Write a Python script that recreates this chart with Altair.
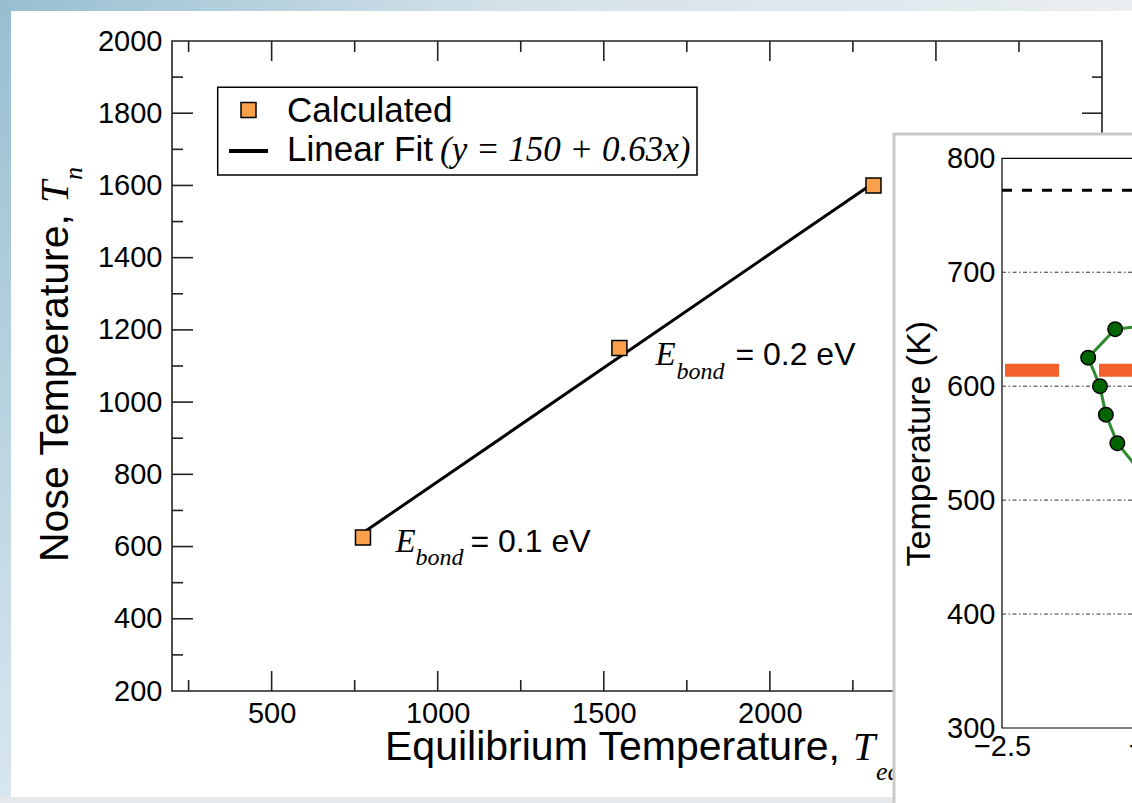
import altair as alt
import pandas as pd

SANS = "Liberation Sans"
SERIF = "Liberation Serif"

# ---------------- main chart values ----------------
teq = [775, 1547, 2312]            # Equilibrium temperature
tn = [625, 1150, 1600]             # Nose temperature (calculated)
fit_teq = [775, 2312]              # linear fit end points
fit_tn = [638, 1607]
ebond = ["0.1", "0.2"]             # labels for first two points
x_label_vals = [500, 1000, 1500, 2000]   # 2500 and 3000 lie under the inset panel
y_label_vals = [200, 400, 600, 800, 1000, 1200, 1400, 1600, 1800, 2000]
x_major = [500, 1000, 1500, 2000, 2500]
x_minor = [250, 750, 1250, 1750, 2250, 2750]
y_major = [400, 600, 800, 1000, 1200, 1400, 1600, 1800]
y_minor = [300, 500, 700, 900, 1100, 1300, 1500, 1700, 1900]
x_domain = [200, 3000]
y_domain = [200, 2000]

# ---------------- inset values ----------------
ins_mu = [-2.135, -2.222, -2.184, -2.165, -2.128]
ins_T = [650, 625, 600, 575, 550]
ins_line_mu = [-2.055, -2.135, -2.222, -2.184, -2.165, -2.128, -2.055]
ins_line_T = [652.5, 650, 625, 600, 575, 550, 525.5]
ins_grid = [400, 500, 600, 700]
ins_black_ref = [772]
ins_orange_ref = [614]
ins_y_labels = [300, 400, 500, 600, 700, 800]
ins_x_labels = [-2.5, -2.0, -1.5, -1.0]
ins_mu_domain = [-2.5, -1.0]
ins_T_domain = [300, 800]

W, H = 930, 650
ORANGE = "#f8a04c"
one = pd.DataFrame({"k": [0]})


def vtext(txt, x, y, size, font=SANS, italic=False, angle=None, align="left"):
    kw = dict(text=txt, font=font, fontSize=size, align=align,
              baseline="alphabetic", color="black")
    if italic:
        kw["fontStyle"] = "italic"
    if angle is not None:
        kw["angle"] = angle
    return alt.Chart(one).mark_text(**kw).encode(x=alt.value(x), y=alt.value(y))


def vrect(x, x2, y, y2, **kw):
    return alt.Chart(one).mark_rect(**kw).encode(
        x=alt.value(x), x2=alt.value(x2), y=alt.value(y), y2=alt.value(y2))


# ---------------- background strips ----------------
top_grad = alt.LinearGradient(gradient="linear", x1=0, x2=1, y1=0, y2=0, stops=[
    alt.GradientStop(offset=0, color="#97bfd1"),
    alt.GradientStop(offset=0.45, color="#d4e2e9"),
    alt.GradientStop(offset=1, color="#e9eef1")])
left_grad = alt.LinearGradient(gradient="linear", x1=0, x2=0, y1=0, y2=1, stops=[
    alt.GradientStop(offset=0, color="#97bfd1"),
    alt.GradientStop(offset=1, color="#d9e7ee")])
strips = alt.layer(
    vrect(-172, 960, -41, -30, color=top_grad),
    vrect(-172, -161, -41, 762, color=left_grad),
    vrect(-172, 960, 756, 762, color="#e6e9eb"),
)

# ---------------- main chart ----------------
X = alt.X("Teq:Q", scale=alt.Scale(domain=x_domain, nice=False, zero=False),
          axis=alt.Axis(orient="bottom", values=x_label_vals, format="d", ticks=False,
                        domain=False, grid=False, labelFont=SANS, labelFontSize=29,
                        labelColor="black", labelPadding=8, labelFlush=False,
                        labelOverlap=False, title=None))
Y = alt.Y("Tn:Q", scale=alt.Scale(domain=y_domain, nice=False, zero=False),
          axis=alt.Axis(orient="left", values=y_label_vals, format="d", ticks=False,
                        domain=False, grid=False, labelFont=SANS, labelFontSize=29,
                        labelColor="black", labelPadding=10, labelOverlap=False,
                        title=None))

TK = dict(color="#222", strokeWidth=1.6)
dxM = pd.DataFrame({"Teq": x_major})
dxm = pd.DataFrame({"Teq": x_minor})
dyM = pd.DataFrame({"Tn": y_major})
dym = pd.DataFrame({"Tn": y_minor})
ticks = alt.layer(
    alt.Chart(dxM).mark_rule(**TK).encode(x=X, y=alt.value(H), y2=alt.value(H - 20)),
    alt.Chart(dxm).mark_rule(**TK).encode(x=X, y=alt.value(H), y2=alt.value(H - 11)),
    alt.Chart(dxM).mark_rule(**TK).encode(x=X, y=alt.value(0), y2=alt.value(20)),
    alt.Chart(dxm).mark_rule(**TK).encode(x=X, y=alt.value(0), y2=alt.value(11)),
    alt.Chart(dyM).mark_rule(**TK).encode(y=Y, x=alt.value(0), x2=alt.value(21)),
    alt.Chart(dym).mark_rule(**TK).encode(y=Y, x=alt.value(0), x2=alt.value(11)),
    alt.Chart(dyM).mark_rule(**TK).encode(y=Y, x=alt.value(W), x2=alt.value(W - 20)),
    alt.Chart(dym).mark_rule(**TK).encode(y=Y, x=alt.value(W), x2=alt.value(W - 10)),
)

fit = alt.Chart(pd.DataFrame({"Teq": fit_teq, "Tn": fit_tn})).mark_line(
    color="black", strokeWidth=3).encode(x=X, y=Y)
pts = alt.Chart(pd.DataFrame({"Teq": teq, "Tn": tn})).mark_square(
    size=225, fill=ORANGE, stroke="black", strokeWidth=1.5, opacity=1,
    fillOpacity=1).encode(x=X, y=Y)

ann_offsets = [(32.5, 14.5, 52.5, 27.5, 107.5, 14.5),
               (36, 17.5, 57, 31.5, 116, 17.5)]
ann_layers = []
for i, lab in enumerate(ebond):
    d = pd.DataFrame({"Teq": [teq[i]], "Tn": [tn[i]]})
    o = ann_offsets[i]
    ann_layers += [
        alt.Chart(d).mark_text(text="E", font=SERIF, fontStyle="italic", fontSize=33,
                               align="left", baseline="alphabetic", color="black",
                               dx=o[0], dy=o[1]).encode(x=X, y=Y),
        alt.Chart(d).mark_text(text="bond", font=SERIF, fontStyle="italic", fontSize=24,
                               align="left", baseline="alphabetic", color="black",
                               dx=o[2], dy=o[3]).encode(x=X, y=Y),
        alt.Chart(d).mark_text(text="= " + lab + " eV", font=SANS, fontSize=32,
                               align="left", baseline="alphabetic", color="black",
                               dx=o[4], dy=o[5]).encode(x=X, y=Y),
    ]

legend = alt.layer(
    vrect(45.7, 525, 46.3, 134, fill="white", stroke="black", strokeWidth=1.5),
    alt.Chart(one).mark_square(size=225, fill=ORANGE, stroke="black", strokeWidth=1.5,
                               opacity=1, fillOpacity=1).encode(
        x=alt.value(76.5), y=alt.value(69)),
    alt.Chart(one).mark_rule(color="black", strokeWidth=4).encode(
        x=alt.value(57), x2=alt.value(96), y=alt.value(110)),
    vtext("Calculated", 115, 81, 35),
    vtext("Linear Fit", 115, 120, 35),
    vtext("(y = 150 + 0.63x)", 268, 120, 35, SERIF, True),
)

titles = alt.layer(
    vtext("Nose Temperature,", -104, 521, 41, angle=270),
    vtext("T", -104, 162, 40, SERIF, True, angle=270),
    vtext("n", -90, 139, 26, SERIF, True, angle=270),
    vtext("Equilibrium Temperature,", 213, 719, 41),
    vtext("T", 681, 719, 40, SERIF, True),
    vtext("eq", 704, 739, 26, SERIF, True),
)

main = alt.layer(ticks, fit, pts, *ann_layers, legend, titles)

# ---------------- inset panel ----------------
panel = vrect(722, 1000, 93, 800, fill="white", stroke="#c9c9c9", strokeWidth=3)

IX = alt.X("mu:Q", scale=alt.Scale(domain=ins_mu_domain, range=[830, 1295], nice=False, zero=False),
           axis=alt.Axis(orient="bottom", offset=37, values=ins_x_labels, format=".1f",
                         ticks=False, domain=False, grid=False, labelFont=SANS,
                         labelFontSize=29, labelColor="black", labelPadding=4,
                         labelFlush=False, labelOverlap=False, title=None, zindex=1))
IY = alt.Y("T:Q", scale=alt.Scale(domain=ins_T_domain, range=[687, 117.3], nice=False, zero=False),
           axis=alt.Axis(orient="left", offset=-830, values=ins_y_labels, ticks=False,
                         domain=False, grid=False, labelFont=SANS, labelFontSize=29,
                         labelColor="black", labelPadding=7, labelOverlap=False,
                         title="Temperature (K)", titleFont=SANS, titleFontSize=34,
                         titleFontWeight="normal", titleColor="black", titlePadding=10,
                         zindex=1))

lo, hi = ins_mu_domain
frame = alt.Chart(pd.DataFrame({"mu": [lo], "mu_end": [hi], "T": [ins_T_domain[0]],
                                "T_end": [ins_T_domain[1]]})).mark_rect(
    fillOpacity=0, stroke="black", strokeWidth=1.2).encode(
    x=IX, x2="mu_end:Q", y=IY, y2="T_end:Q")


def hline(vals):
    return pd.DataFrame({"T": vals, "mu": [lo] * len(vals), "mu_end": [hi] * len(vals)})


grid = alt.Chart(hline(ins_grid)).mark_rule(
    color="#333", strokeWidth=1, strokeDash=[4, 2.5, 1.5, 2.5]).encode(x=IX, x2="mu_end:Q", y=IY)
black_ref = alt.Chart(hline(ins_black_ref)).mark_rule(
    color="black", strokeWidth=3, strokeDash=[10, 10]).encode(x=IX, x2="mu_end:Q", y=IY)
orange_ref = alt.Chart(hline(ins_orange_ref)).mark_rule(
    color="#f4602b", strokeWidth=13, strokeDash=[54, 40], strokeDashOffset=91).encode(
    x=IX, x2="mu_end:Q", y=IY)
gline = alt.Chart(pd.DataFrame({"mu": ins_line_mu, "T": ins_line_T,
                                "o": list(range(len(ins_line_T)))})).mark_line(
    color="#2e8b2e", strokeWidth=3).encode(x=IX, y=IY, order="o:Q")
gpts = alt.Chart(pd.DataFrame({"mu": ins_mu, "T": ins_T})).mark_circle(
    size=210, fill="#006400", stroke="black", strokeWidth=1.5, opacity=1).encode(x=IX, y=IY)

inset = alt.layer(frame, grid, black_ref, orange_ref, gline, gpts)

chart = alt.layer(strips, main, panel, inset).resolve_scale(
    x="independent", y="independent"
).properties(
    width=W, height=H,
    autosize=alt.AutoSizeParams(type="none"),
    padding={"left": 172, "top": 41, "right": 30, "bottom": 112},
).configure(background="white").configure_view(stroke="#222", strokeWidth=1.6)

chart.save("out.html", embed_options={"renderer": "svg", "actions": False})
